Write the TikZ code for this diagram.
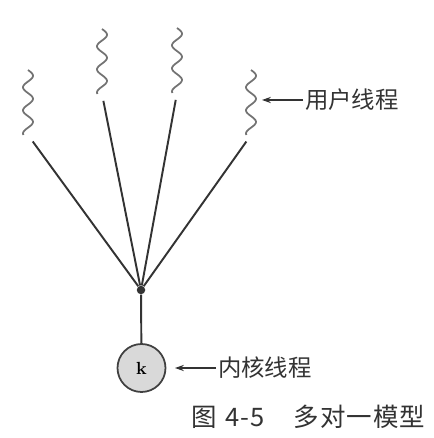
\documentclass[tikz,border=0pt]{standalone}
\usepackage{fontspec}
\newfontfamily\cjk{Noto Sans CJK SC}
\newfontfamily\cjkcap[LetterSpace=4]{Noto Sans CJK SC}
\usetikzlibrary{arrows.meta, calc}
\tikzset{
    thread/.style = {draw=black!55, line width=1pt},
    link/.style = {draw=black!80, line width=1.1pt},
    lbl/.style = {font=\cjk\fontsize{13.3}{15}\selectfont, text=black!80, inner sep=1pt},
    pics/uthread/.style = {
        code = {%
        \coordinate (-top) at (0, 0);
        \coordinate (-bot) at (0,-1.3);
        \draw[thread] plot[domain=0:1.3, samples=60, smooth] ({0.1*sin(\x*780)}, -\x);
        }
    },
}

\begin{document}
\begin{tikzpicture}
\useasboundingbox (0,0) rectangle (8.66,-8.76);

\pic(u1) at (0.56,-1.40) {uthread};
\pic(u2) at (2.04,-0.58) {uthread};
\pic(u3) at (3.54,-0.56) {uthread};
\pic(u4) at (5.02,-1.40) {uthread};

\node[circle, fill=black!80, inner sep=0pt, minimum size=0.17cm] (j) at (2.82,-5.80) {};
\node[circle, draw=black!75, fill=black!15, line width=1pt, minimum size=0.96cm, inner sep=0pt,
      font=\bfseries] (k) at (2.83,-7.36) {k};

\draw[link] ($(u1-bot)!0.16cm!(j)$) -- (j);
\draw[link] ($(u2-bot)!0.14cm!(j)$) -- (j);
\draw[link] ($(u3-bot)!0.14cm!(j)$) -- (j);
\draw[link] ($(u4-bot)!0.16cm!(j)$) -- (j);
\draw[link] (j) -- (k);

\node[lbl, anchor=west] (ul) at (6.06,-2.0) {用户线程};
\coordinate (ut) at (5.24,-2.0);
\draw[link, -{Stealth[length=5pt, width=3.5pt]}] (ul.west) -- (ut);

\node[lbl, anchor=west] (kl) at (4.32,-7.36) {内核线程};
\coordinate (kt) at (3.50,-7.36);
\draw[link, -{Stealth[length=5pt, width=3.5pt]}] (kl.west) -- (kt);

\node[lbl, font=\cjkcap\fontsize{14.5}{17}\selectfont, anchor=west] (cap) at (3.78,-8.34)
    {图\hspace{0.35em}4-5\hspace{1.15em}多对一模型};

\end{tikzpicture}
\end{document}
